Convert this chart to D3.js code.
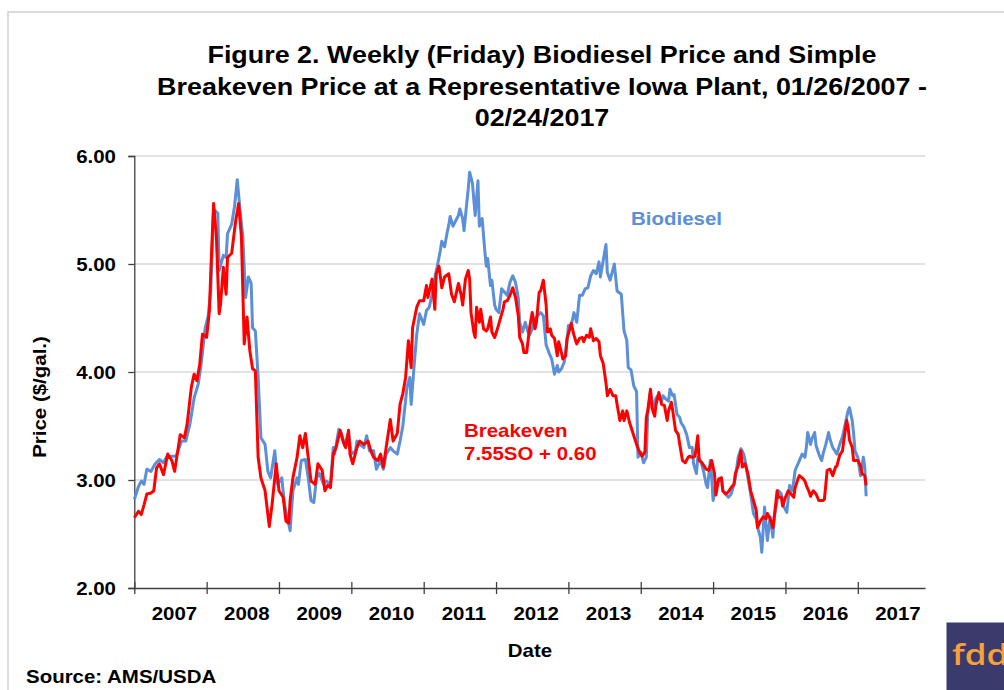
<!DOCTYPE html>
<html>
<head>
<meta charset="utf-8">
<script src="https://cdn.jsdelivr.net/npm/d3@7"></script>
<style>
  html, body { margin: 0; padding: 0; background: #fff; }
  svg { display: block; }
  text { font-family: "Liberation Sans", Arial, sans-serif; font-weight: bold; }
</style>
</head>
<body>
<svg id="chart" width="1004" height="690"></svg>
<script>
// ---- data (weeks since Friday 01/26/2007, price $/gal) ----
const titleLines = [
  "Figure 2. Weekly (Friday) Biodiesel Price and Simple",
  "Breakeven Price at a Representative Iowa Plant, 01/26/2007 -",
  "02/24/2017"
];
const yearLabels = ["2007","2008","2009","2010","2011","2012","2013","2014","2015","2016","2017"];
const yTicks = [2, 3, 4, 5, 6];

const bioWeek = [0,3,5,7,9,12,15,18,21,23,27,30,34,37,40,43,46,48,51,53,55,57,60,61,64,66,67,70,72,74,76,78,80,82,84,85,87,89,91,94,96,98,101,103,106,108,112,114,117,118,120,123,125,127,129,131,133,136,138,141,143,144,147,149,151,154,156,159,160,162,165,167,169,172,174,177,179,181,184,186,189,191,193,196,198,199,201,203,205,208,210,212,215,216,219,220,221,223,225,226,227,229,231,233,234,236,237,239,240,241,243,245,247,248,250,252,253,254,256,257,259,260,262,264,266,268,270,272,274,276,277,279,281,283,284,286,288,290,292,294,296,298,300,302,304,305,307,309,311,312,314,316,318,320,322,324,326,328,330,332,334,335,337,339,340,342,344,345,347,350,352,354,355,357,359,361,362,364,366,368,369,371,373,375,377,379,380,382,384,385,387,388,390,392,393,395,397,399,401,402,404,405,407,409,411,412,414,415,416,418,420,422,423,425,427,429,431,432,434,436,438,439,441,443,445,447,448,450,451,453,455,457,459,460,462,463,465,467,469,471,473,475,477,478,480,482,483,484,486,487,489,490,492,494,495,497,499,500,502,504,505,507,509,511,513,514,516,517,518,520,521,522,524,525,526];
const bioPrice = [2.82,2.94,2.99,2.96,3.10,3.08,3.15,3.19,3.16,3.21,3.22,3.22,3.36,3.36,3.52,3.76,3.89,4.07,4.41,4.51,4.76,5.51,5.47,4.94,5.08,5.06,5.28,5.37,5.53,5.78,5.50,5.25,4.69,4.88,4.82,4.41,4.38,3.95,3.39,3.33,3.08,3.02,3.27,2.96,3.02,2.77,2.53,2.90,3.02,2.96,3.18,3.19,3.02,2.81,2.79,3.02,3.06,2.96,2.99,2.96,3.30,3.24,3.47,3.43,3.32,3.44,3.24,3.27,3.36,3.33,3.30,3.41,3.27,3.27,3.10,3.18,3.10,3.24,3.30,3.27,3.24,3.36,3.50,3.86,3.95,3.70,4.04,4.35,4.54,4.44,4.57,4.60,4.78,4.87,5.06,5.13,5.21,5.16,5.30,5.36,5.44,5.35,5.40,5.45,5.51,5.42,5.31,5.57,5.69,5.85,5.75,5.45,5.77,5.35,5.42,5.11,4.98,5.05,4.80,4.85,4.62,4.58,4.55,4.77,4.74,4.71,4.83,4.89,4.83,4.68,4.46,4.37,4.46,4.37,4.34,4.40,4.49,4.52,4.55,4.52,4.25,4.18,4.12,3.98,4.06,4.00,4.03,4.09,4.28,4.43,4.43,4.55,4.46,4.71,4.71,4.77,4.78,4.89,4.94,4.91,5.02,4.88,5.03,5.18,4.92,4.85,4.95,5.00,4.75,4.72,4.38,4.29,4.04,4.02,3.87,3.82,3.21,3.26,3.16,3.21,3.61,3.82,3.67,3.76,3.79,3.73,3.78,3.75,3.73,3.84,3.78,3.79,3.61,3.58,3.53,3.49,3.42,3.30,3.30,3.15,3.06,3.21,3.18,3.09,2.96,2.93,3.18,3.02,2.81,2.96,2.99,3.02,2.90,2.87,2.84,2.87,2.96,3.02,3.21,3.29,3.24,3.18,3.02,2.87,2.69,2.64,2.56,2.47,2.33,2.75,2.44,2.66,2.47,2.66,2.81,2.90,2.87,2.75,2.70,2.95,2.90,3.09,3.15,3.18,3.24,3.21,3.30,3.44,3.33,3.38,3.44,3.32,3.24,3.18,3.24,3.33,3.44,3.38,3.30,3.26,3.24,3.33,3.40,3.52,3.64,3.67,3.55,3.43,3.27,3.21,3.12,3.04,3.21,3.12,2.85];

const beWeek = [0,3,5,7,9,12,14,16,18,21,24,27,29,33,36,38,41,43,45,47,49,52,54,55,57,59,61,62,64,66,67,70,72,73,75,77,79,81,83,85,87,89,91,94,96,97,99,102,104,107,109,111,112,114,117,119,121,123,125,127,130,132,135,137,139,141,143,145,148,150,152,154,155,157,160,162,165,168,170,172,175,177,179,181,184,186,189,191,193,195,197,199,200,203,205,208,210,211,214,216,217,219,221,223,226,228,230,233,235,236,238,240,241,242,244,245,246,248,249,251,253,254,256,257,259,261,263,265,266,268,270,272,274,276,277,279,280,282,284,286,288,289,291,292,294,296,297,299,300,302,304,305,307,308,310,311,313,314,316,318,320,322,323,325,327,328,330,332,334,335,337,339,340,342,344,346,347,349,351,352,354,356,357,359,361,363,365,367,368,369,371,372,374,375,377,379,381,383,384,386,387,389,391,392,394,396,398,399,401,403,405,406,408,410,411,413,415,417,418,420,422,423,425,427,429,431,432,434,436,437,439,441,443,445,447,448,450,452,454,455,457,459,460,462,463,465,466,468,470,472,474,475,477,478,480,482,483,485,486,488,490,492,494,495,496,498,500,502,504,505,507,509,510,512,513,514,516,517,518,520,522,523,525,526];
const bePrice = [2.65,2.71,2.68,2.77,2.87,2.88,2.90,3.11,3.15,3.05,3.24,3.18,3.08,3.42,3.39,3.52,3.86,3.98,3.92,4.07,4.35,4.32,4.57,4.94,5.56,5.25,4.54,4.63,4.97,4.72,5.06,5.10,5.31,5.41,5.56,5.25,4.26,4.51,4.20,4.03,4.01,3.21,3.02,2.90,2.68,2.57,2.77,3.15,2.90,2.84,2.62,2.60,2.81,3.02,3.21,3.41,3.30,3.43,3.21,2.99,2.96,3.15,3.09,2.90,2.95,2.93,3.24,3.30,3.46,3.36,3.30,3.46,3.24,3.15,3.30,3.36,3.33,3.36,3.27,3.21,3.18,3.24,3.12,3.30,3.56,3.36,3.43,3.70,3.80,3.95,4.29,4.04,4.41,4.60,4.66,4.66,4.80,4.69,4.86,4.58,4.91,4.98,4.78,4.88,4.91,4.72,4.65,4.82,4.71,4.62,4.86,4.94,4.86,4.55,4.37,4.32,4.60,4.46,4.58,4.40,4.38,4.40,4.51,4.37,4.32,4.40,4.49,4.58,4.65,4.66,4.71,4.78,4.69,4.52,4.32,4.26,4.18,4.18,4.40,4.55,4.40,4.46,4.74,4.75,4.85,4.62,4.37,4.40,4.34,4.31,4.15,4.28,4.18,4.12,4.15,4.31,4.40,4.45,4.34,4.26,4.31,4.32,4.28,4.34,4.32,4.40,4.29,4.31,4.28,4.15,4.08,3.90,3.78,3.84,3.78,3.78,3.70,3.55,3.64,3.55,3.64,3.53,3.49,3.41,3.33,3.26,3.22,3.26,3.58,3.64,3.84,3.67,3.59,3.70,3.81,3.70,3.69,3.55,3.64,3.72,3.64,3.46,3.42,3.33,3.18,3.16,3.21,3.22,3.21,3.22,3.41,3.18,3.16,3.12,3.10,3.09,3.18,3.06,2.86,3.01,3.02,2.90,2.87,2.89,2.93,2.96,3.06,3.13,3.27,3.12,3.15,3.06,2.90,2.81,2.72,2.56,2.62,2.66,2.64,2.69,2.64,2.56,2.66,2.90,2.84,2.84,2.76,2.84,2.90,2.87,2.84,2.93,3.01,3.04,3.02,2.99,2.95,2.89,2.85,2.90,2.87,2.81,2.81,2.81,2.82,3.09,3.10,3.04,3.12,3.13,3.23,3.27,3.37,3.55,3.49,3.37,3.30,3.18,3.18,3.18,3.13,3.06,3.04,2.95];

// ---- drawing ----
const svg = d3.select("#chart");
const SX = 1.17; // horizontal text stretch seen in the reference

svg.append("rect").attr("width", 1004).attr("height", 690).attr("fill", "#fff");
svg.append("rect").attr("x", 8).attr("y", 12).attr("width", 1100).attr("height", 800)
  .attr("fill", "none").attr("stroke", "#d0d0d0").attr("stroke-width", 1.5);

const x = d3.scaleLinear().domain([0, 568.3]).range([134.3, 925]);
const y = d3.scaleLinear().domain([2, 6]).range([588, 156]);

function stretchedText(g, tx, ty, str, opts) {
  return g.append("text")
    .attr("transform", `translate(${tx},${ty})${opts.rotate ? " rotate(" + opts.rotate + ")" : ""} scale(${SX},1)`)
    .attr("text-anchor", opts.anchor || "start")
    .attr("font-size", opts.size)
    .attr("fill", opts.fill || "#000")
    .text(str);
}

// gridlines
svg.append("g").selectAll("line").data(yTicks.filter(d => d > 2)).join("line")
  .attr("x1", x(0)).attr("x2", x.range()[1])
  .attr("y1", d => y(d)).attr("y2", d => y(d))
  .attr("stroke", "#d9d9d9").attr("stroke-width", 1.3);

// y axis
const yAxis = svg.append("g").attr("transform", `translate(${x(0)},0)`)
  .call(d3.axisLeft(y).tickValues(yTicks).tickSize(6).tickFormat(""));
yAxis.select(".domain").attr("stroke", "#404040").attr("stroke-width", 1.3);
yAxis.selectAll(".tick line").attr("stroke", "#404040").attr("stroke-width", 1.3);
yTicks.forEach(v => stretchedText(svg, 116, y(v) + 6.5, d3.format(".2f")(v), {anchor: "end", size: 17.5}));

// x axis
const xTickVals = d3.range(0, 521, 52);
const xAxis = svg.append("g").attr("transform", `translate(0,${y(2)})`)
  .call(d3.axisBottom(x).tickValues(xTickVals).tickSizeInner(6).tickSizeOuter(0).tickFormat(""));
xAxis.select(".domain").attr("stroke", "#404040").attr("stroke-width", 1.3);
xAxis.selectAll(".tick line").attr("stroke", "#404040").attr("stroke-width", 1.3)
  .attr("y1", -6).attr("y2", 6);
yearLabels.forEach((lab, i) => stretchedText(svg, x(i * 52 + 26) + 4, 620, lab, {anchor: "middle", size: 17.5}));

// series
const bio = bioWeek.map((w, i) => [w, bioPrice[i]]);
const be = beWeek.map((w, i) => [w, bePrice[i]]);
const line = d3.line().x(d => x(d[0])).y(d => y(d[1]));
svg.append("path").datum(bio).attr("d", line)
  .attr("fill", "none").attr("stroke", "#5b8fd7").attr("stroke-width", 3).attr("stroke-linejoin", "round");
svg.append("path").datum(be).attr("d", line)
  .attr("fill", "none").attr("stroke", "#ff0000").attr("stroke-width", 3).attr("stroke-linejoin", "round");

// labels
stretchedText(svg, 631, 225, "Biodiesel", {size: 17.5, fill: "#5b8fd7"});
stretchedText(svg, 464, 437, "Breakeven", {size: 17.5, fill: "#ff0000"});
stretchedText(svg, 464, 460, "7.55SO + 0.60", {size: 17.5, fill: "#ff0000"});

// title
const titleBase = [63, 94.5, 126];
titleLines.forEach((t, i) => stretchedText(svg, 542, titleBase[i], t, {anchor: "middle", size: 23}));

// axis titles
stretchedText(svg, 46, 397, "Price ($/gal.)", {anchor: "middle", size: 17.5, rotate: -90});
stretchedText(svg, 530, 657, "Date", {anchor: "middle", size: 17.5});
stretchedText(svg, 26, 683, "Source: AMS/USDA", {size: 17.5});

// logo
svg.append("rect").attr("x", 946.5).attr("y", 622.5).attr("width", 60).attr("height", 70).attr("fill", "#3b3a6c");
svg.append("text").attr("transform", "translate(952,665) scale(1.25,1)")
  .style("font-family", "'Open Sans', Lato, sans-serif").style("font-weight", "600")
  .attr("font-size", 28).attr("fill", "#f6a13b").text("fdd");
</script>
</body>
</html>
